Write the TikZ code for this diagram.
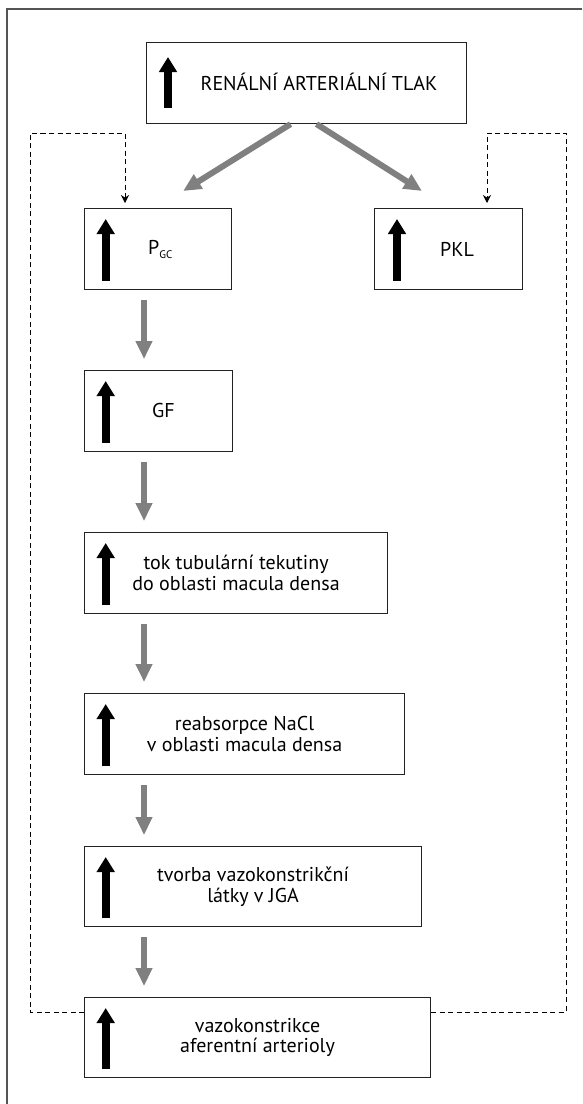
\documentclass[tikz,border=0pt]{standalone}
\usepackage{fontspec}
\setmainfont{PT Sans}
\usetikzlibrary{arrows.meta}
\definecolor{arrgray}{HTML}{808080}
\definecolor{boxline}{HTML}{222222}
\definecolor{framegray}{HTML}{555555}
\begin{document}
\begin{tikzpicture}[x=1pt,y=1pt,
  box/.style={draw=boxline, line width=1.1pt, anchor=north west, inner sep=0pt},
  lbl/.style={font=\fontsize{20}{20.5}\selectfont, align=center, inner sep=0pt},
  uparr/.style={line width=7.7pt, -{Triangle[width=17.3pt,length=15pt]}},
  grayarr/.style={draw=arrgray, line width=6pt, -{Triangle[width=16pt,length=18pt]}},
  dashline/.style={draw=black, line width=0.9pt, dash pattern=on 5pt off 3.5pt},
  dashtip/.style={-{Stealth[width=8pt,length=8pt]}},
  frameline/.style={draw=framegray, line width=1.5pt}
]
\useasboundingbox (0,0) rectangle (582,-1104);
% outer frame (cropped at right and bottom)
\draw[frameline] (582,-9) -- (7,-9) -- (7,-1104);

% boxes
\node[box, minimum width=320pt, minimum height=81pt] (top) at (146,-42) {};
\node[box, minimum width=147pt, minimum height=81pt] (pgc) at (84,-208) {};
\node[box, minimum width=148pt, minimum height=81pt] (pkl) at (374,-208) {};
\node[box, minimum width=148pt, minimum height=81pt] (gf) at (84,-370) {};
\node[box, minimum width=303pt, minimum height=81pt] (tok) at (84,-532) {};
\node[box, minimum width=320pt, minimum height=81pt] (reab) at (84,-693) {};
\node[box, minimum width=337pt, minimum height=80pt] (tvorba) at (84,-846) {};
\node[box, minimum width=346pt, minimum height=80pt] (bot) at (84,-997) {};

% black up arrows inside boxes
\draw[uparr] ([shift={(22,-66)}]top.north west) -- ([shift={(22,-15)}]top.north west);
\foreach \b in {pgc,gf,tok,reab,tvorba,bot}{
  \draw[uparr] ([shift={(21.7,9)}]\b.south west) -- ([shift={(21.7,-11)}]\b.north west);
}
\draw[uparr] ([shift={(23,9)}]pkl.south west) -- ([shift={(23,-11)}]pkl.north west);

% labels
\node[lbl, anchor=base] (toptxt) at ([shift={(173,-48)}]top.north west) {RENÁLNÍ ARTERIÁLNÍ TLAK};
\node[lbl, anchor=base west] (pgctxt) at ([shift={(64,-46)}]pgc.north west) {P\raisebox{-0.45ex}{\fontsize{11}{11}\selectfont GC}};
\node[lbl, anchor=base west] (pkltxt) at ([shift={(66,-48)}]pkl.north west) {PKL};
\node[lbl, anchor=base west] (gftxt) at ([shift={(68,-47)}]gf.north west) {GF};
\node[lbl] (toktxt) at (tok.center) {tok tubulární tekutiny\\do oblasti macula densa};
\node[lbl] (reabtxt) at (reab.center) {reabsorpce NaCl\\v oblasti macula densa};
\node[lbl] (tvorbatxt) at (tvorba.center) {tvorba vazokonstrikční\\látky v JGA};
\node[lbl] (bottxt) at (bot.center) {vazokonstrikce\\aferentní arterioly};

% gray arrows
\draw[grayarr] ([xshift=-16pt]top.south) -- ([shift={(-49,17)}]pgc.north east);
\draw[grayarr] ([xshift=10pt]top.south) -- ([shift={(48,17)}]pkl.north west);
\draw[grayarr] ([shift={(60,-10)}]pgc.south west) -- ([shift={(60,11)}]gf.north west);
\draw[grayarr] ([shift={(60,-10)}]gf.south west) -- ([shift={(60,11)}]tok.north west);
\draw[grayarr] ([shift={(60,-10)}]tok.south west) -- ([shift={(60,11)}]reab.north west);
\draw[grayarr] ([shift={(60,-10)}]reab.south west) -- ([shift={(60,11)}]tvorba.north west);
\draw[grayarr] ([shift={(60,-10)}]tvorba.south west) -- ([shift={(60,11)}]bot.north west);

% dashed feedback loops
\coordinate (lcorner) at (30,-133);
\coordinate (rcorner) at (566,-133);
\coordinate (pgcin) at ([shift={(41,5)}]pgc.north west);
\coordinate (pklin) at ([shift={(113,5)}]pkl.north west);
\draw[dashline, dashtip] ([yshift=-15pt]bot.north west) -| (lcorner) -| (pgcin);
\draw[dashline, dashtip] ([yshift=-15pt]bot.north east) -| (rcorner) -| (pklin);
\end{tikzpicture}
\end{document}
